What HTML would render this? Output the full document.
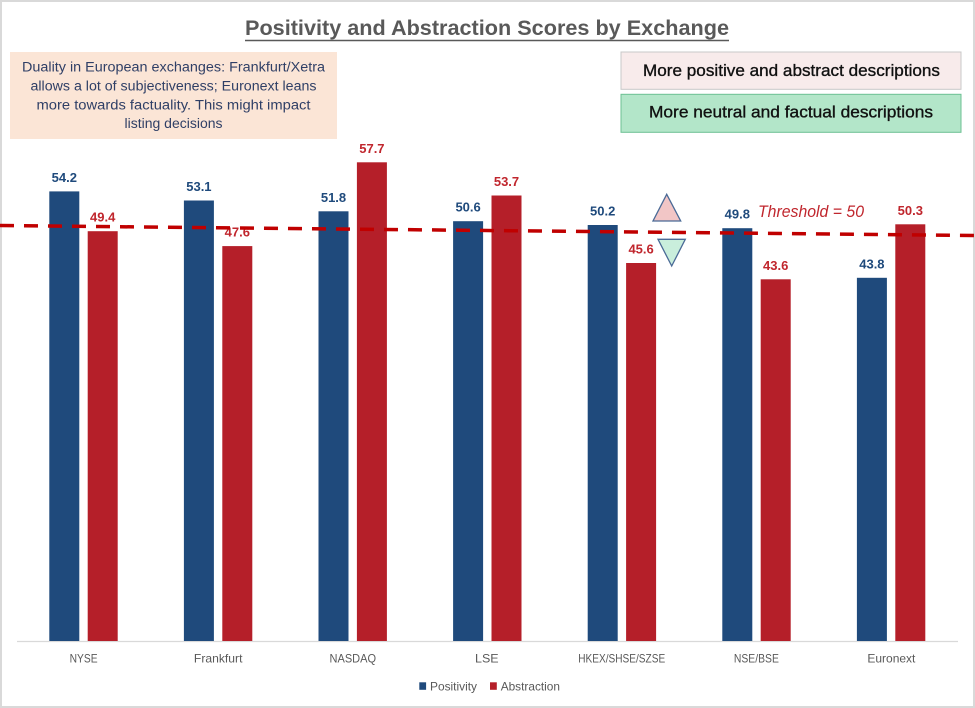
<!DOCTYPE html>
<html>
<head>
<meta charset="utf-8">
<style>
html,body{margin:0;padding:0;background:#fff;}
svg{display:block;}
text{font-family:"Liberation Sans",sans-serif;}
</style>
</head>
<body>
<svg width="975" height="708" viewBox="0 0 975 708" xmlns="http://www.w3.org/2000/svg">
<rect x="0" y="0" width="975" height="708" fill="#ffffff"/>
<rect x="1" y="1" width="973" height="706" fill="none" stroke="#d9d9d9" stroke-width="2"/>

<!-- Title -->
<text x="245" y="35" font-size="21" font-weight="bold" fill="#595959" textLength="484" lengthAdjust="spacingAndGlyphs">Positivity and Abstraction Scores by Exchange</text>
<line x1="245" y1="40.5" x2="729" y2="40.5" stroke="#595959" stroke-width="1.6"/>

<!-- Annotation box -->
<rect x="10" y="52" width="327" height="87" fill="#fbe5d6"/>
<g font-size="13.5" fill="#2f3f66" text-anchor="middle">
<text x="173.5" y="71.5" textLength="303" lengthAdjust="spacingAndGlyphs">Duality in European exchanges: Frankfurt/Xetra</text>
<text x="173.5" y="90.5" textLength="286" lengthAdjust="spacingAndGlyphs">allows a lot of subjectiveness; Euronext leans</text>
<text x="173.5" y="109.5" textLength="274" lengthAdjust="spacingAndGlyphs">more towards factuality. This might impact</text>
<text x="173.5" y="128" textLength="98" lengthAdjust="spacingAndGlyphs">listing decisions</text>
</g>

<!-- Legend boxes -->
<rect x="621" y="52" width="340" height="37.3" fill="#f8ebeb" stroke="#c8c8c8" stroke-width="1"/>
<text x="791.5" y="76" font-size="17" fill="#111" stroke="#111" stroke-width="0.35" text-anchor="middle" textLength="297" lengthAdjust="spacingAndGlyphs">More positive and abstract descriptions</text>
<rect x="621" y="94.3" width="340" height="38" fill="#b3e6c9" stroke="#6cc093" stroke-width="1"/>
<text x="791" y="117.5" font-size="17" fill="#111" stroke="#111" stroke-width="0.35" text-anchor="middle" textLength="284" lengthAdjust="spacingAndGlyphs">More neutral and factual descriptions</text>

<!-- Axis line -->
<line x1="17" y1="641.5" x2="958" y2="641.5" stroke="#d9d9d9" stroke-width="1.2"/>

<!-- Bars -->
<g fill="#1f4a7c">
<rect x="49.3" y="191.4" width="30" height="449.6"/>
<rect x="183.9" y="200.5" width="30" height="440.5"/>
<rect x="318.5" y="211.3" width="30" height="429.7"/>
<rect x="453.1" y="221.2" width="30" height="419.8"/>
<rect x="587.7" y="225" width="30" height="416"/>
<rect x="722.3" y="228.2" width="30" height="412.8"/>
<rect x="856.9" y="277.8" width="30" height="363.2"/>
</g>
<g fill="#b51f29">
<rect x="87.7" y="231.2" width="30" height="409.8"/>
<rect x="222.3" y="246.1" width="30" height="394.9"/>
<rect x="356.9" y="162.3" width="30" height="478.7"/>
<rect x="491.5" y="195.5" width="30" height="445.5"/>
<rect x="626.1" y="263" width="30" height="378"/>
<rect x="760.7" y="279.3" width="30" height="361.7"/>
<rect x="895.3" y="224.3" width="30" height="416.7"/>
</g>

<!-- Value labels -->
<g font-size="13" font-weight="bold" fill="#1f4a7c" text-anchor="middle">
<text x="64.3" y="182">54.2</text>
<text x="198.9" y="191">53.1</text>
<text x="333.5" y="201.8">51.8</text>
<text x="468.1" y="211.7">50.6</text>
<text x="602.7" y="215.5">50.2</text>
<text x="737.3" y="218.7">49.8</text>
<text x="871.9" y="268.3">43.8</text>
</g>
<g font-size="13" font-weight="bold" fill="#c0262d" text-anchor="middle">
<text x="102.7" y="221.7">49.4</text>
<text x="237.3" y="236.6">47.6</text>
<text x="371.9" y="152.8">57.7</text>
<text x="506.5" y="186">53.7</text>
<text x="641.1" y="253.5">45.6</text>
<text x="775.7" y="269.8">43.6</text>
<text x="910.3" y="214.8">50.3</text>
</g>

<!-- Threshold line -->
<line x1="0" y1="225.5" x2="975" y2="235.5" stroke="#c00000" stroke-width="3.5" stroke-dasharray="14 10"/>
<text x="758" y="217" font-size="17" font-style="italic" fill="#c0262d" textLength="106" lengthAdjust="spacingAndGlyphs">Threshold = 50</text>

<!-- Triangles -->
<polygon points="666.7,194.3 653,221 680.7,221" fill="#f2c6c6" stroke="#4a6a96" stroke-width="1.3"/>
<polygon points="658,239.3 685.3,239.3 671.7,266" fill="#c9eedc" stroke="#4a6a96" stroke-width="1.3"/>

<!-- Category labels -->
<g font-size="12" fill="#595959" text-anchor="middle">
<text x="83.6" y="662.5" textLength="28" lengthAdjust="spacingAndGlyphs">NYSE</text>
<text x="218.2" y="662.5" textLength="48.5" lengthAdjust="spacingAndGlyphs">Frankfurt</text>
<text x="352.8" y="662.5" textLength="46.5" lengthAdjust="spacingAndGlyphs">NASDAQ</text>
<text x="486.8" y="662.5" textLength="23.6" lengthAdjust="spacingAndGlyphs">LSE</text>
<text x="621.7" y="662.5" textLength="87" lengthAdjust="spacingAndGlyphs">HKEX/SHSE/SZSE</text>
<text x="756.4" y="662.5" textLength="45" lengthAdjust="spacingAndGlyphs">NSE/BSE</text>
<text x="891.4" y="662.5" textLength="48" lengthAdjust="spacingAndGlyphs">Euronext</text>
</g>

<!-- Legend -->
<rect x="419.3" y="682.3" width="6.8" height="7.5" fill="#1f4a7c"/>
<text x="430" y="690.5" font-size="12" fill="#595959" textLength="47" lengthAdjust="spacingAndGlyphs">Positivity</text>
<rect x="490" y="682.3" width="6.8" height="7.5" fill="#b51f29"/>
<text x="500.7" y="690.5" font-size="12" fill="#595959" textLength="59.3" lengthAdjust="spacingAndGlyphs">Abstraction</text>
</svg>
</body>
</html>
